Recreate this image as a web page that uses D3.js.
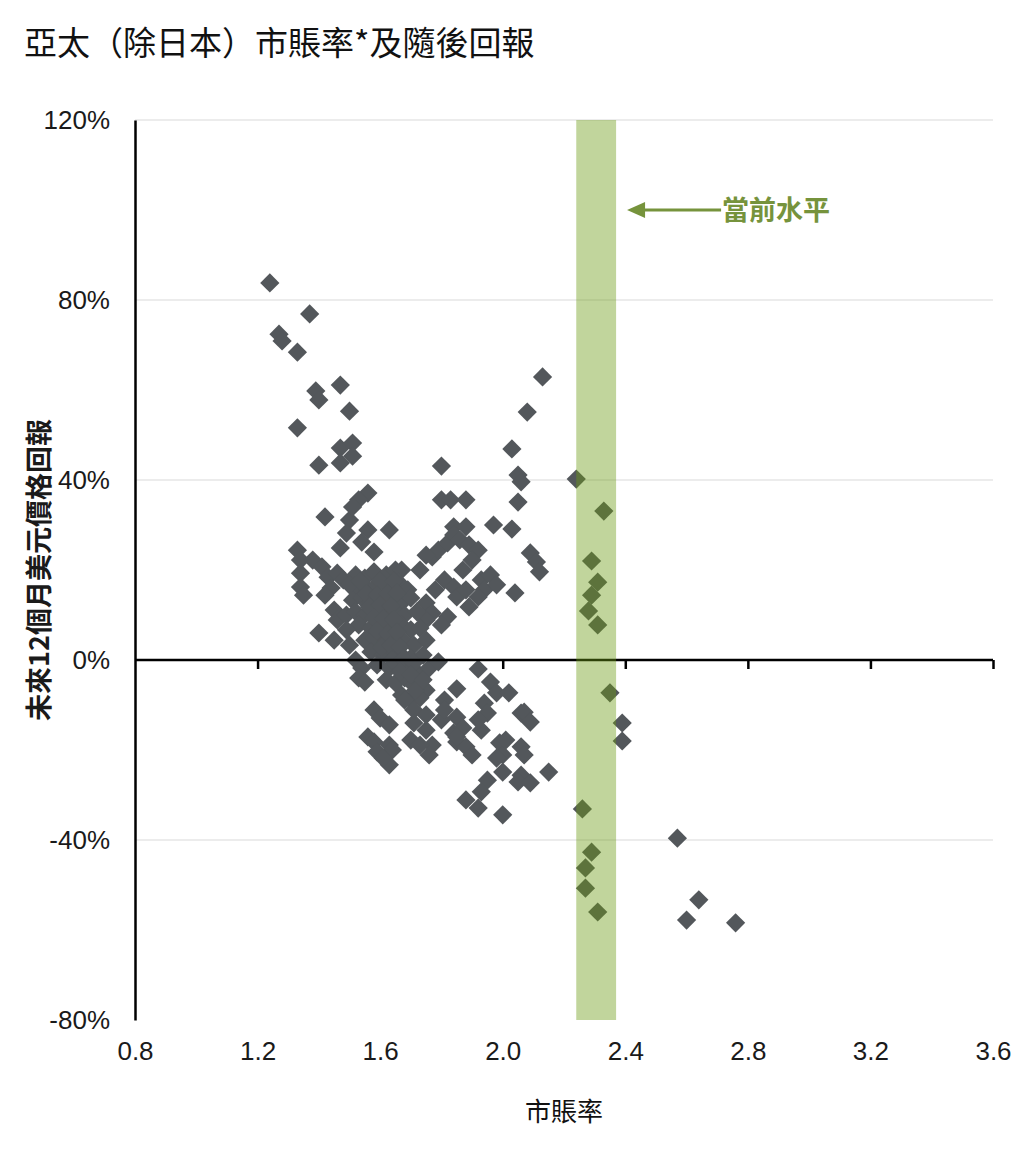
<!DOCTYPE html>
<html>
<head>
<meta charset="utf-8">
<script src="https://cdn.jsdelivr.net/npm/d3@7"></script>
<style>
  body { margin: 0; background: #fff; }
  text { font-family: "Liberation Sans", Arial, "Noto Sans CJK TC", sans-serif; }
  .cjk { font-family: "Noto Sans CJK TC", "Noto Sans", sans-serif; }
</style>
</head>
<body>
<div id="chart"></div>
<script>
// P/B ratio vs next 12m USD price return, Asia Pacific ex Japan

// chart values
const pbTicks = [0.8, 1.2, 1.6, 2.0, 2.4, 2.8, 3.2, 3.6];
const retTicks = [-80, -40, 0, 40, 80, 120];
const gridTicks = [-40, 40, 80, 120];
const currentBand = [2.24, 2.37];   // current level range of P/B
const currentLabel = "當前水平";

// [P/B, return %]
const upperLeft = [
  [1.24, 83.8], [1.27, 72.4], [1.28, 70.9], [1.37, 76.9], [1.33, 68.4], [1.39, 59.8],
  [1.40, 57.8], [1.47, 61.1], [1.50, 55.3], [1.33, 51.6], [1.47, 47.1], [1.51, 48.2],
  [1.51, 45.3], [1.40, 43.3], [1.47, 43.8]
];
const upperBranch = [
  [2.13, 62.9], [2.08, 55.1], [2.03, 46.9], [1.80, 43.1], [2.05, 41.1], [2.06, 39.6],
  [2.24, 40.2], [2.33, 33.1], [1.80, 35.6], [1.83, 35.6], [1.88, 35.6], [2.05, 35.1],
  [1.97, 30.0], [2.03, 29.1], [1.84, 29.6], [1.88, 29.6], [2.09, 23.8], [2.11, 21.8],
  [2.12, 19.6], [2.29, 22.0], [2.31, 17.3], [2.29, 14.4], [2.28, 10.9], [2.31, 7.8],
  [2.04, 14.9]
];
const rightCluster = [
  [1.77, 22.9], [1.79, 24.4], [1.82, 26.0], [1.84, 27.8], [1.86, 26.7], [1.89, 25.6],
  [1.92, 24.4], [1.87, 20.0], [1.90, 22.2], [1.81, 17.8], [1.84, 16.2], [1.85, 14.0],
  [1.75, 12.7], [1.77, 10.4], [1.82, 9.6], [1.89, 11.8], [1.93, 17.8], [1.94, 15.6],
  [1.96, 18.9], [1.98, 16.7], [1.92, 14.0], [1.88, 15.6], [1.73, 20.0], [1.75, 23.3],
  [1.78, 15.6], [1.80, 7.8], [1.75, 8.9]
];
const leftCluster = [
  [1.33, 24.4], [1.34, 22.2], [1.34, 19.3], [1.34, 16.2], [1.35, 14.4], [1.38, 22.2],
  [1.41, 20.7], [1.43, 18.4], [1.44, 16.0], [1.42, 14.4], [1.46, 19.3], [1.48, 17.8],
  [1.42, 31.8], [1.50, 31.1], [1.49, 28.2], [1.56, 28.9], [1.63, 28.9], [1.54, 26.2],
  [1.58, 24.0], [1.47, 24.9], [1.56, 37.1], [1.53, 35.6], [1.51, 34.0], [1.40, 6.0],
  [1.45, 4.4], [1.45, 11.1], [1.46, 8.9], [1.49, 10.0]
];
const centerBlob = [
  [1.52, 18.9], [1.55, 18.2], [1.58, 19.6], [1.62, 18.9], [1.65, 20.0], [1.67, 20.0],
  [1.53, 16.0], [1.56, 15.6], [1.59, 16.7], [1.63, 16.0], [1.66, 17.3], [1.69, 15.6],
  [1.51, 13.3], [1.54, 13.8], [1.57, 12.9], [1.61, 13.8], [1.64, 13.3], [1.67, 12.7], [1.70, 13.8],
  [1.52, 10.7], [1.55, 10.0], [1.59, 11.1], [1.62, 10.4], [1.65, 10.7], [1.68, 10.0], [1.72, 10.7],
  [1.53, 7.8], [1.57, 7.1], [1.60, 8.4], [1.63, 7.1], [1.67, 7.8], [1.70, 6.7], [1.73, 7.1],
  [1.55, 4.4], [1.58, 4.9], [1.62, 4.0], [1.65, 4.9], [1.68, 4.0], [1.71, 3.3], [1.75, 4.4],
  [1.57, 1.8], [1.61, 1.1], [1.64, 2.2], [1.67, 1.1], [1.70, 0.4], [1.74, 1.1],
  [1.59, -1.1], [1.63, -1.8], [1.66, -0.4], [1.69, -1.8], [1.72, -2.7], [1.76, -1.8],
  [1.62, -4.4], [1.65, -5.1], [1.68, -4.0], [1.71, -5.6], [1.75, -6.7],
  [1.67, -7.8], [1.70, -8.9], [1.73, -8.4],
  [1.52, 0.0], [1.54, -1.8], [1.50, 3.3], [1.49, 6.7], [1.50, 16.7]
];
const centerFill = [
  [1.535, 17.5], [1.60, 17.5], [1.645, 17.5],
  [1.555, 14.7], [1.59, 14.5], [1.625, 14.7], [1.655, 14.9],
  [1.565, 11.8], [1.60, 12.2], [1.635, 12.0],
  [1.58, 9.4], [1.61, 9.2], [1.645, 9.0],
  [1.59, 6.4], [1.625, 5.8], [1.655, 6.2],
  [1.605, 2.8], [1.635, 3.2], [1.665, 2.9],
  [1.64, 0.0], [1.675, 0.3], [1.71, -0.6],
  [1.665, -2.6], [1.70, -3.3],
  [1.715, -6.8]
];
const lowerLeft = [
  [1.53, -4.0], [1.55, -4.9], [1.58, -11.1], [1.60, -12.9], [1.63, -14.4], [1.56, -17.1],
  [1.58, -18.2], [1.63, -18.9], [1.64, -20.0], [1.63, -23.3], [1.59, -20.4], [1.61, -21.8]
];
const lowerMiddle = [
  [1.74, -4.4], [1.81, -8.9], [1.85, -6.4], [1.79, -0.4], [1.92, -2.0], [1.96, -4.9],
  [1.98, -7.3], [2.02, -7.3], [1.71, -14.0], [1.75, -15.6], [1.77, -18.9], [1.76, -21.1],
  [1.84, -16.2], [1.85, -18.2], [1.88, -19.3], [1.90, -21.1], [1.94, -9.6], [1.95, -11.8],
  [1.85, -12.7], [1.87, -15.1], [1.85, -17.1], [1.93, -15.6], [1.92, -13.3],
  [1.99, -18.4], [2.00, -21.1], [2.00, -24.9], [2.01, -17.8], [2.06, -19.3], [2.07, -21.1],
  [2.06, -11.8], [2.07, -11.6], [2.09, -13.8], [2.06, -25.6], [2.05, -27.1], [2.09, -27.3],
  [1.95, -26.7], [1.93, -29.3], [1.88, -31.1], [1.92, -32.9], [2.00, -34.4], [2.15, -24.9],
  [1.98, -21.8], [1.68, -8.9], [1.71, -11.1], [1.75, -12.2], [1.80, -13.3], [1.81, -11.1],
  [1.70, -17.8], [1.73, -18.9]
];
const lowerRight = [
  [2.35, -7.3], [2.39, -14.0], [2.39, -18.0], [2.26, -33.1], [2.29, -42.7], [2.27, -46.2],
  [2.27, -50.7], [2.31, -56.0], [2.57, -39.6], [2.64, -53.3], [2.60, -57.8], [2.76, -58.4]
];

const points = [].concat(upperLeft, upperBranch, rightCluster, leftCluster,
  centerBlob, centerFill, lowerLeft, lowerMiddle, lowerRight);

// dimensions
const width = 1036;
const height = 1160;
const marginTop = 120;
const marginRight = 43;
const marginBottom = 140;
const marginLeft = 135;

const svg = d3.select("#chart")
  .append("svg")
  .attr("width", width)
  .attr("height", height);

const x = d3.scaleLinear()
  .domain([0.8, 3.6])
  .range([marginLeft, width - marginRight]);

const y = d3.scaleLinear()
  .domain([-80, 120])
  .range([height - marginBottom, marginTop]);

// title
svg.append("text")
  .attr("class", "cjk")
  .attr("x", 24)
  .attr("y", 55)
  .attr("font-size", 33)
  .attr("fill", "#111")
  .text("亞太（除日本）市賬率*及隨後回報");

// gridlines
svg.append("g")
  .selectAll("line")
  .data(gridTicks)
  .join("line")
    .attr("x1", x.range()[0])
    .attr("x2", x.range()[1])
    .attr("y1", d => y(d))
    .attr("y2", d => y(d))
    .attr("stroke", "#d9d9d9")
    .attr("stroke-width", 1);

// y axis (labels + line)
const yAxis = svg.append("g")
  .attr("transform", `translate(${marginLeft},0)`)
  .call(d3.axisLeft(y).tickValues(retTicks).tickSize(0).tickPadding(25).tickFormat(d => d + "%"));
yAxis.select(".domain").attr("stroke", "#000").attr("stroke-width", 2.5);
yAxis.selectAll("text").attr("font-size", 26).attr("fill", "#1a1a1a")
  .attr("font-family", "'Liberation Sans', Arial, sans-serif");

// x tick labels along the bottom
const xLabels = svg.append("g")
  .attr("transform", `translate(0,${y(-80)})`)
  .call(d3.axisBottom(x).tickValues(pbTicks).tickSize(0).tickPadding(22).tickFormat(d3.format(".1f")));
xLabels.select(".domain").remove();
xLabels.selectAll("text").attr("font-size", 26).attr("fill", "#1a1a1a")
  .attr("font-family", "'Liberation Sans', Arial, sans-serif");

// points
svg.append("g")
  .selectAll("path")
  .data(points)
  .join("path")
    .attr("d", d3.symbol(d3.symbolSquare, 185))
    .attr("transform", d => `translate(${x(d[0])},${y(d[1])}) rotate(45)`)
    .attr("fill", "#53575b");

// zero line with ticks
const zeroAxis = svg.append("g")
  .attr("transform", `translate(0,${y(0)})`)
  .call(d3.axisBottom(x).tickValues(pbTicks.slice(1)).tickSize(9).tickFormat(""));
zeroAxis.select(".domain").attr("stroke", "#000").attr("stroke-width", 2.5)
  .attr("d", `M${x.range()[0]},0H${x.range()[1]}`);
zeroAxis.selectAll(".tick line").attr("stroke", "#000").attr("stroke-width", 2.5);

// current level band (translucent overlay)
svg.append("rect")
  .attr("x", x(currentBand[0]))
  .attr("width", x(currentBand[1]) - x(currentBand[0]))
  .attr("y", y(120))
  .attr("height", y(-80) - y(120))
  .attr("fill", "rgb(108,155,18)")
  .attr("fill-opacity", 0.42);

// annotation arrow + label
const arrowY = y(100);
const tipX = x(currentBand[1]) + 11;
const green = "#76933c";
svg.append("line")
  .attr("x1", tipX + 14)
  .attr("x2", tipX + 94)
  .attr("y1", arrowY)
  .attr("y2", arrowY)
  .attr("stroke", green)
  .attr("stroke-width", 3);
svg.append("path")
  .attr("d", `M${tipX},${arrowY}L${tipX + 18},${arrowY - 8}L${tipX + 18},${arrowY + 8}Z`)
  .attr("fill", green);
svg.append("text")
  .attr("class", "cjk")
  .attr("x", tipX + 95)
  .attr("y", arrowY + 10)
  .attr("font-size", 27)
  .attr("font-weight", "bold")
  .attr("fill", green)
  .text(currentLabel);

// axis titles
svg.append("text")
  .attr("class", "cjk")
  .attr("x", (x.range()[0] + x.range()[1]) / 2)
  .attr("y", 1121)
  .attr("text-anchor", "middle")
  .attr("font-size", 26)
  .attr("fill", "#111")
  .text("市賬率");

svg.append("text")
  .attr("class", "cjk")
  .attr("transform", `translate(49,570) rotate(-90)`)
  .attr("text-anchor", "middle")
  .attr("font-size", 27)
  .attr("font-weight", "bold")
  .attr("fill", "#1a1a1a")
  .text("未來12個月美元價格回報");
</script>
</body>
</html>
